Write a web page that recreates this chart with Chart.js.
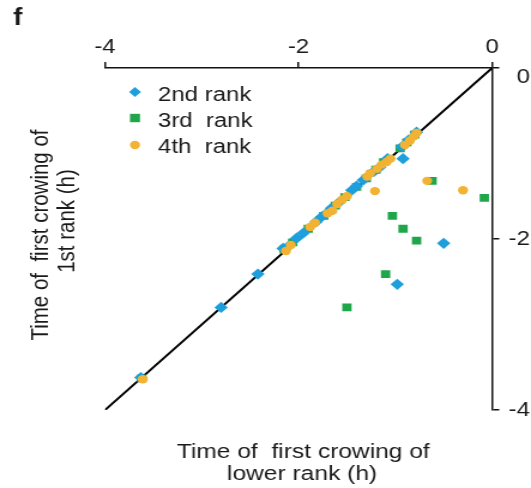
<!DOCTYPE html>
<html>
<head>
<meta charset="utf-8">
<script src="https://cdn.jsdelivr.net/npm/chart.js@4.4.0/dist/chart.umd.min.js"></script>
<style>
  html, body { margin: 0; padding: 0; background: #fff; overflow: hidden; }
  /* the figure is laid out at 443 px wide and widened to 531 px */
  #wrap { width: 443px; height: 488px; transform: scaleX(1.19865); transform-origin: 0 0; }
</style>
</head>
<body>
<div id="wrap"><canvas id="c" width="443" height="488"></canvas></div>
<script>
// Tick values shared by both axes (hours)
const tickValues = [-4, -2, 0];

// Time of first crowing of a lower-ranked bird (x) vs. the 1st-ranked bird (y)
const rank2X = [-3.63, -2.80, -2.42, -2.16, -2.10, -2.02, -1.95, -1.82, -1.76, -1.71, -1.66, -1.58, -1.45, -1.40, -1.33,
                -1.22, -1.16, -1.08, -0.93, -0.86, -0.78, -0.92, -0.50, -0.98];
const rank2Y = [-3.62, -2.80, -2.41, -2.11, -2.08, -1.99, -1.93, -1.80, -1.74, -1.70, -1.64, -1.57, -1.43, -1.38, -1.31,
                -1.21, -1.16, -1.06, -0.92, -0.84, -0.75, -1.06, -2.05, -2.53];

const rank3X = [-3.62, -2.15, -2.06, -1.90, -1.74, -1.62, -1.52, -1.40, -1.30, -1.20, -1.12, -0.95, -0.88, -0.80,
                -0.62, -0.08, -1.03, -0.92, -0.78, -1.10, -1.50];
const rank3Y = [-3.63, -2.12, -2.04, -1.88, -1.73, -1.61, -1.51, -1.39, -1.29, -1.19, -1.10, -0.94, -0.87, -0.78,
                -1.32, -1.52, -1.73, -1.88, -2.02, -2.41, -2.80];

const rank4X = [-3.61, -2.13, -2.08, -1.88, -1.83, -1.70, -1.65, -1.60, -1.55, -1.50, -1.29, -1.26, -1.19, -1.14,
                -1.09, -1.05, -0.90, -0.85, -0.81, -0.78, -0.67, -1.21, -0.30];
const rank4Y = [-3.64, -2.14, -2.07, -1.86, -1.81, -1.70, -1.67, -1.59, -1.54, -1.50, -1.27, -1.23, -1.18, -1.13,
                -1.10, -1.06, -0.90, -0.85, -0.80, -0.76, -1.32, -1.44, -1.43];

// Identity line y = x
const diagX = [-4, 0];
const diagY = [-4, 0];

const seriesLabels = ['2nd rank', '3rd  rank', '4th  rank'];

const FONT = '"Liberation Sans", Arial, Helvetica, sans-serif';
const TEXT = '#1a1a1a';
const BLUE = '#1e9fdd';
const GREEN = '#1fa64b';
const ORANGE = '#f2b232';

const toPoints = (xs, ys) => xs.map((x, i) => ({ x: x, y: ys[i] }));

function marker(ctx, style, x, y, r) {
  ctx.beginPath();
  if (style === 'rectRot') {
    ctx.moveTo(x, y - r); ctx.lineTo(x + r, y); ctx.lineTo(x, y + r); ctx.lineTo(x - r, y);
    ctx.closePath();
  } else if (style === 'rect') {
    ctx.rect(x - r, y - r, 2 * r, 2 * r);
  } else {
    ctx.arc(x, y, r, 0, Math.PI * 2);
  }
  ctx.fill();
}

// Panel letter, axis titles and the in-plot legend
const panelText = {
  id: 'panelText',
  afterDraw(chart) {
    const ctx = chart.ctx;
    ctx.save();
    ctx.fillStyle = TEXT;
    ctx.textBaseline = 'alphabetic';

    ctx.font = 'bold 23px ' + FONT;
    ctx.textAlign = 'left';
    ctx.fillText('f', 11, 25);

    ctx.font = '20.5px ' + FONT;
    ctx.textAlign = 'center';
    ctx.fillText('Time of  first crowing of', 253, 458);
    ctx.fillText('lower rank (h)', 252, 480);

    ctx.save();
    ctx.translate(40, 235);
    ctx.rotate(-Math.PI / 2);
    ctx.fillText('Time of  first crowing of', 0, 0);
    ctx.restore();
    ctx.save();
    ctx.translate(61.5, 221);
    ctx.rotate(-Math.PI / 2);
    ctx.fillText('1st rank (h)', 0, 0);
    ctx.restore();

    // legend entries follow the scatter datasets
    const rows = [92, 118, 145];
    const base = [101, 127, 153];
    ctx.font = '20px ' + FONT;
    ctx.textAlign = 'left';
    chart.data.datasets.slice(0, 3).forEach((ds, i) => {
      ctx.fillStyle = ds.backgroundColor;
      const r = ds.pointStyle === 'rectRot' ? 5 : 4.2;
      marker(ctx, ds.pointStyle, 112.6, rows[i], r);
      ctx.fillStyle = TEXT;
      ctx.fillText(ds.label, 131.8, base[i]);
    });
    ctx.restore();
  }
};

const axisGrid = { display: true, drawOnChartArea: false, drawTicks: true, tickLength: 6, color: '#111', lineWidth: 1.5 };
const axisBorder = { display: true, color: '#111', width: 1.5 };

new Chart(document.getElementById('c'), {
  type: 'scatter',
  data: {
    datasets: [
      { label: seriesLabels[0], data: toPoints(rank2X, rank2Y), pointStyle: 'rectRot', pointRadius: 5.6,
        backgroundColor: BLUE, borderWidth: 0, order: 2 },
      { label: seriesLabels[1], data: toPoints(rank3X, rank3Y), pointStyle: 'rect', pointRadius: 5.5,
        backgroundColor: GREEN, borderWidth: 0, order: 3 },
      { label: seriesLabels[2], data: toPoints(rank4X, rank4Y), pointStyle: 'circle', pointRadius: 4.2,
        backgroundColor: ORANGE, borderWidth: 0, order: 1 },
      { label: 'y = x', data: toPoints(diagX, diagY), showLine: true, pointRadius: 0,
        borderColor: '#000', borderWidth: 2, fill: false, order: 4 }
    ]
  },
  options: {
    responsive: false,
    animation: false,
    devicePixelRatio: 1,
    layout: { padding: { left: 87.6, right: 1, top: 0, bottom: 78 } },
    plugins: { legend: { display: false }, tooltip: { enabled: false } },
    scales: {
      x: {
        type: 'linear', position: 'top', min: -4, max: 0,
        afterBuildTicks: s => { s.ticks = tickValues.map(v => ({ value: v })); },
        afterFit: s => { s.height = 68; },
        ticks: { color: TEXT, padding: 3, maxRotation: 0, font: { family: FONT, size: 20 },
                 callback: v => String(v) },
        grid: axisGrid, border: axisBorder
      },
      y: {
        type: 'linear', position: 'right', min: -4, max: 0,
        afterBuildTicks: s => { s.ticks = tickValues.map(v => ({ value: v })); },
        afterFit: s => { s.width = 31.5; },
        ticks: { color: TEXT, padding: 8, crossAlign: 'far',
                 font: c => (c.tick && c.tick.value === 0)
                   ? { family: FONT, size: 20, lineHeight: 0.9 }
                   : { family: FONT, size: 20 },
                 // the 0 label sits just below the corner
                 callback: v => v === 0 ? ['', '0'] : String(v) },
        grid: axisGrid, border: axisBorder
      }
    }
  },
  plugins: [panelText]
});
</script>
</body>
</html>
